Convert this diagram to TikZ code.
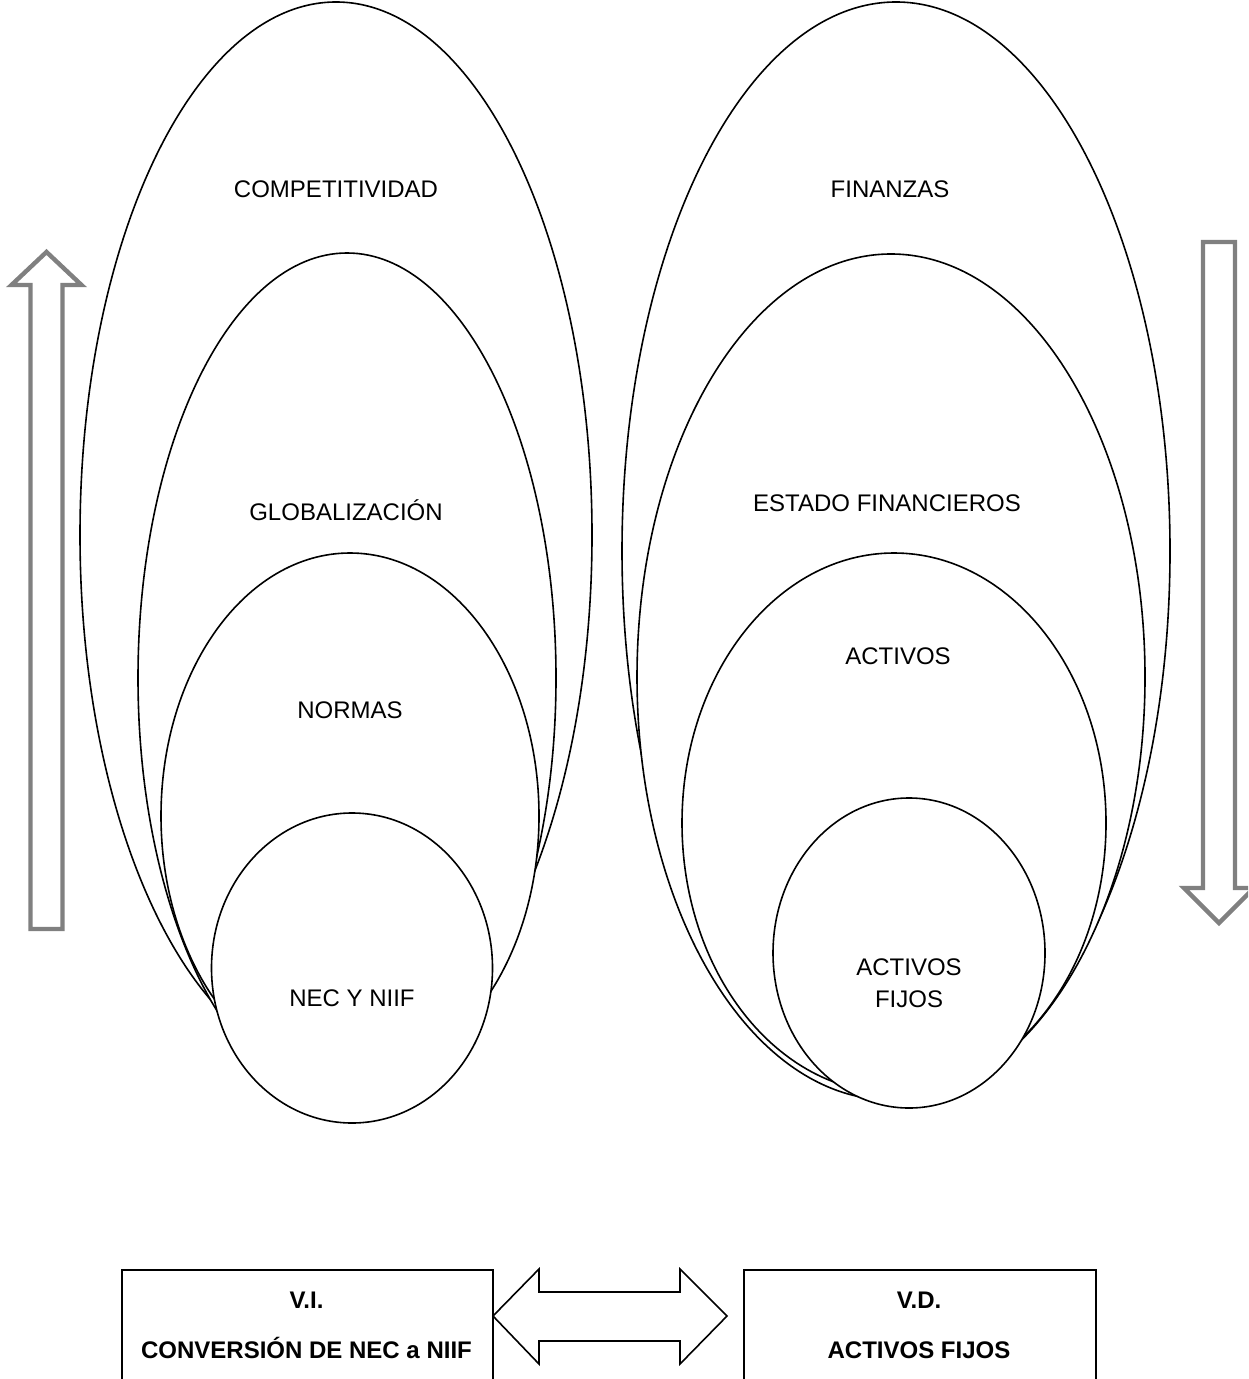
\documentclass[tikz,border=0pt]{standalone}
\usepackage{fontspec}
\setmainfont{Liberation Sans}
\usetikzlibrary{shapes.geometric}
\definecolor{arrowgray}{HTML}{808080}
\begin{document}
\begin{tikzpicture}[x=0.5pt,y=-0.5pt,
  ell/.style={ellipse, draw=black, line width=0.8pt, fill=white, inner sep=0pt, outer sep=0pt},
  lbl/.style={font=\fontsize{12}{16}\selectfont, inner sep=0pt, anchor=base},
  blbl/.style={font=\fontsize{12}{16}\selectfont\bfseries, inner sep=0pt, anchor=base},
  garrow/.style={draw=arrowgray, line width=2.2pt, fill=white, line join=miter},
  barrow/.style={draw=black, line width=0.8pt, fill=white, line join=miter},
  vbox/.style={draw=black, line width=0.8pt, fill=white}]
\useasboundingbox (0,0) rectangle (1248,1379);
\clip (0,0) rectangle (1248,1379);
\fill[white] (0,0) rectangle (1248,1379);

% left group
\node[ell, minimum width=256pt, minimum height=533pt] (e1) at (336,535) {};
\node[ell, minimum width=209pt, minimum height=425pt] (e2) at (347,678) {};
\node[ell, minimum width=189pt, minimum height=263pt] (e3) at (350,816) {};
\node[ell, minimum width=140.5pt, minimum height=155pt] (e4) at (352,968) {};
\node[lbl] (t1) at (336,197.5) {COMPETITIVIDAD};
\node[lbl] (t2) at (346,520.5) {GLOBALIZACIÓN};
\node[lbl] (t3) at (350,718.5) {NORMAS};
\node[lbl] (t4) at (352,1006.5) {NEC Y NIIF};

% right group
\node[ell, minimum width=274pt, minimum height=549pt] (f1) at (896,551) {};
\node[ell, minimum width=254pt, minimum height=423pt] (f2) at (891,677) {};
\node[ell, minimum width=212pt, minimum height=270pt] (f3) at (894,823) {};
\node[ell, minimum width=136pt, minimum height=155pt] (f4) at (909,953) {};
\node[lbl] (s1) at (890,197.5) {FINANZAS};
\node[lbl] (s2) at (887,511.5) {ESTADO FINANCIEROS};
\node[lbl] (s3) at (898,664.5) {ACTIVOS};
\node[lbl, anchor=center, align=center] (s4) at (909,983) {ACTIVOS\\FIJOS};

% gray block arrows
\draw[garrow] (46.5,252) -- (81.5,285) -- (62.5,285) -- (62.5,929) -- (30.5,929) -- (30.5,285) -- (11.5,285) -- cycle;
\draw[garrow] (1219,923) -- (1254,888) -- (1235,888) -- (1235,242) -- (1203,242) -- (1203,888) -- (1184,888) -- cycle;

% bottom boxes
\node[vbox, minimum width=185.5pt, minimum height=130pt, anchor=north west, inner sep=0pt] (vi) at (121,1269) {};
\node[vbox, minimum width=176pt, minimum height=130pt, anchor=north west, inner sep=0pt] (vd) at (743,1269) {};
\node[blbl] (vi1) at (306.5,1308.5) {V.I.};
\node[blbl] (vi2) at (306.5,1358.5) {CONVERSIÓN DE NEC a NIIF};
\node[blbl] (vd1) at (919,1308.5) {V.D.};
\node[blbl] (vd2) at (919,1358.5) {ACTIVOS FIJOS};

% double arrow between boxes
\draw[barrow] (493,1316) -- (539,1269) -- (539,1292) -- (680,1292) -- (680,1269) -- (727,1316)
  -- (680,1364) -- (680,1341) -- (539,1341) -- (539,1364) -- cycle;
\end{tikzpicture}
\end{document}
